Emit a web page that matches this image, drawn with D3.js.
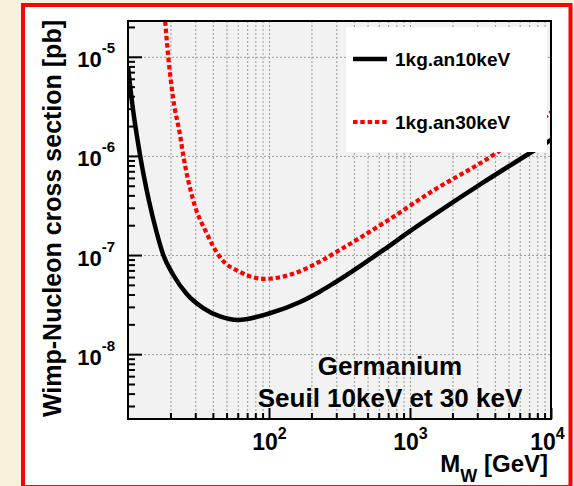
<!DOCTYPE html>
<html>
<head>
<meta charset="utf-8">
<script src="https://cdn.jsdelivr.net/npm/d3@7"></script>
<style>
html,body{margin:0;padding:0;background:#f9f0dc;}
svg{display:block;}
text{font-family:"Liberation Sans",Arial,Helvetica,sans-serif;font-weight:bold;fill:#000;}
</style>
</head>
<body>
<svg id="chart" width="574" height="486"></svg>
<script>
// ---- data ----
const massBlack = [10, 10.6, 12.2, 14.1, 15.8, 17.8, 20.96, 26.1, 34.2, 44.9, 60.3, 100, 166, 229, 286, 646, 1000, 1460, 3310, 7100, 10000];
const sigmaBlack = [7.9e-6, 3.8e-6, 1.0e-6, 3.5e-7, 1.79e-7, 1.0e-7, 6.29e-8, 4.05e-8, 2.92e-8, 2.40e-8, 2.21e-8, 2.57e-8, 3.36e-8, 4.27e-8, 5.16e-8, 1.12e-7, 1.74e-7, 2.51e-7, 5.4e-7, 1.07e-6, 1.45e-6];
const massRed = [18.0, 19.3, 20.9, 23.4, 24.7, 29, 36.1, 44.9, 62.2, 93.3, 148, 229, 316, 646, 1462, 3890, 10000];
const sigmaRed = [3.2e-5, 1.0e-5, 3.8e-6, 1.62e-6, 1.0e-6, 3.57e-7, 1.66e-7, 9.5e-8, 6.76e-8, 5.75e-8, 6.46e-8, 8.6e-8, 1.12e-7, 2.09e-7, 4.47e-7, 1.02e-6, 2.75e-6];
const seriesNames = ["1kg.an10keV", "1kg.an30keV"];
const xMajorTicks = [100, 1000, 10000];
const xTickExponents = ["2", "3", "4"];
const yMajorTicks = [1e-5, 1e-6, 1e-7, 1e-8];
const yTickExponents = ["-5", "-6", "-7", "-8"];
const xAxisTitle = ["M", "W", " [GeV]"];
const yAxisTitle = "Wimp-Nucleon cross section [pb]";
const annotation = ["Germanium", "Seuil 10keV et 30 keV"];

// ---- layout ----
const L = 128, R = 551, T = 21, B = 419;
const svg = d3.select("#chart");

// background & red frame
svg.append("rect").attr("x", 0).attr("y", 0).attr("width", 574).attr("height", 486).attr("fill", "#f9f0dc");
svg.append("rect").attr("x", 23).attr("y", 5).attr("width", 547.5).attr("height", 482)
  .attr("fill", "#ffffff").attr("stroke", "#ff0000").attr("stroke-width", 4);

const x = d3.scaleLog().domain([10, 10000]).range([L, R]);
const y = d3.scaleLog().domain([Math.pow(10, -8.654), Math.pow(10, -4.639)]).range([B, T]);

// plot fill
svg.append("rect").attr("x", L).attr("y", T).attr("width", R - L).attr("height", B - T).attr("fill", "#f2f2f2");

// minor values
const xAll = [];
for (let d = 10; d < 10000; d *= 10) for (let k = 1; k <= 9; k++) { const v = d * k; if (v > 10 && v < 10000) xAll.push(v); }
const xMinor = xAll.filter(v => !xMajorTicks.includes(v));
const yMinor = [];
for (let d = 1e-9; d < 1e-4; d *= 10) for (let k = 2; k <= 9; k++) { const v = d * k; if (v >= y.domain()[0] && v <= y.domain()[1]) yMinor.push(v); }

// grid
const gridStyle = g => {
  g.select(".domain").remove();
  g.selectAll("line").attr("stroke", "#9a9a9a").attr("stroke-width", 1).attr("stroke-dasharray", "2,2");
};
svg.append("g").attr("transform", `translate(0,${B})`)
  .call(d3.axisBottom(x).tickValues(xAll).tickSize(-(B - T)).tickFormat(""))
  .call(gridStyle);
svg.append("g").attr("transform", `translate(${L},0)`)
  .call(d3.axisLeft(y).tickValues(yMajorTicks).tickSize(-(R - L)).tickFormat(""))
  .call(gridStyle);

// curves
svg.append("clipPath").attr("id", "clip").append("rect").attr("x", L).attr("y", T).attr("width", R - L).attr("height", B - T);
const line = d3.line().x(d => x(d[0])).y(d => y(d[1])).curve(d3.curveMonotoneX);
const gCurves = svg.append("g").attr("clip-path", "url(#clip)");
gCurves.append("path").datum(massRed.map((m, i) => [m, sigmaRed[i]]))
  .attr("d", line).attr("fill", "none").attr("stroke", "#ff0000").attr("stroke-width", 4.2).attr("stroke-dasharray", "4.5,2.8");
gCurves.append("path").datum(massBlack.map((m, i) => [m, sigmaBlack[i]]))
  .attr("d", line).attr("fill", "none").attr("stroke", "#000").attr("stroke-width", 4.5);

// legend
const lg = svg.append("g");
lg.append("rect").attr("x", 346).attr("y", 27).attr("width", 201).attr("height", 125).attr("fill", "#fff");
const legY = [59, 122];
lg.append("line").attr("x1", 353).attr("x2", 387).attr("y1", legY[0]).attr("y2", legY[0]).attr("stroke", "#000").attr("stroke-width", 4.5);
lg.append("line").attr("x1", 353).attr("x2", 387).attr("y1", legY[1]).attr("y2", legY[1]).attr("stroke", "#ff0000").attr("stroke-width", 4.2).attr("stroke-dasharray", "4.5,2.8");
seriesNames.forEach((n, i) => {
  lg.append("text").attr("x", 395).attr("y", legY[i] + 7).attr("font-size", 19).text(n);
});

// frame
svg.append("rect").attr("x", L).attr("y", T).attr("width", R - L).attr("height", B - T)
  .attr("fill", "none").attr("stroke", "#000").attr("stroke-width", 2);

// axes ticks
const tickStyle = g => { g.select(".domain").remove(); g.selectAll("line").attr("stroke", "#000").attr("stroke-width", 2); };
svg.append("g").attr("transform", `translate(${L},0)`)
  .call(d3.axisLeft(y).tickValues(yMinor).tickSize(-7).tickFormat(""))
  .call(tickStyle);
const yAx = svg.append("g").attr("transform", `translate(${L},0)`)
  .call(d3.axisLeft(y).tickValues(yMajorTicks).tickSize(-14).tickPadding(13))
  .call(tickStyle);
yAx.selectAll(".tick text").each(function(d, i) {
  const t = d3.select(this);
  t.text("").attr("dy", null).attr("y", 10).attr("font-size", 22).attr("fill", "#000").attr("font-family", null);
  t.append("tspan").text("10");
  t.append("tspan").attr("dy", -14).attr("font-size", 15).text(yTickExponents[i]);
});
svg.append("g").attr("transform", `translate(0,${B})`)
  .call(d3.axisBottom(x).tickValues(xMinor).tickSize(-6).tickFormat(""))
  .call(tickStyle);
const xAx = svg.append("g").attr("transform", `translate(0,${B})`)
  .call(d3.axisBottom(x).tickValues(xMajorTicks).tickSize(-11))
  .call(tickStyle);
xAx.selectAll(".tick text").each(function(d, i) {
  const t = d3.select(this);
  t.text("").attr("dy", null).attr("y", 31).attr("font-size", 23).attr("fill", "#000").attr("font-family", null);
  if (i === xMajorTicks.length - 1) t.attr("x", -4);
  t.append("tspan").text("10");
  t.append("tspan").attr("dy", -11).attr("font-size", 16).text(xTickExponents[i]);
});

// axis titles
const xt = svg.append("text").attr("x", 548).attr("y", 472).attr("text-anchor", "end").attr("font-size", 23);
xt.append("tspan").attr("font-size", 24).text(xAxisTitle[0]);
xt.append("tspan").attr("dy", 10).attr("font-size", 18).text(xAxisTitle[1]);
xt.append("tspan").attr("dy", -10).attr("font-size", 24).text(xAxisTitle[2]);
svg.append("text").attr("transform", "translate(61,20) rotate(-90)").attr("text-anchor", "end")
  .attr("font-size", 25).text(yAxisTitle);

// annotation
svg.append("text").attr("x", 390).attr("y", 375).attr("text-anchor", "middle").attr("font-size", 26).text(annotation[0]);
svg.append("text").attr("x", 390).attr("y", 407).attr("text-anchor", "middle").attr("font-size", 26).text(annotation[1]);
</script>
</body>
</html>
